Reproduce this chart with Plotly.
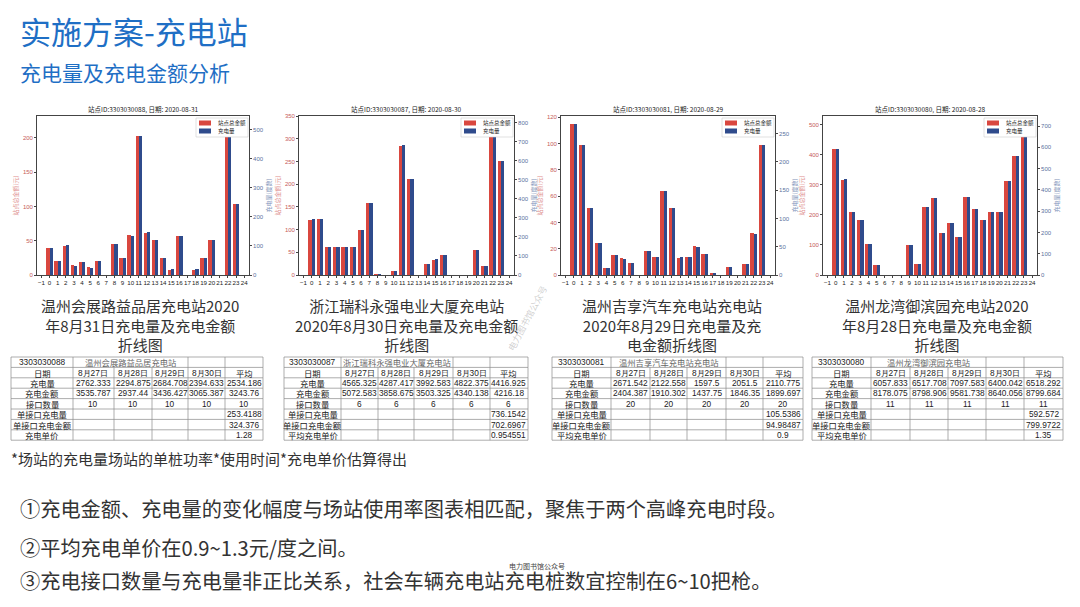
import plotly.graph_objects as go

W, H = 1080, 607
FONT = "Noto Sans CJK SC"
NUM_FONT = "Liberation Sans"
RED = "#d9473f"
BLUE = "#2f4b8c"
TITLE_BLUE = "#1f6fc5"
TEXT = "#333333"

# ---- hourly bars ----
hours = list(range(24))

amount_0831 = [39, 20, 43, 14, 19, 11, 20, 0, 45, 25, 58, 203, 62, 51, 25, 8, 57, 0, 8, 25, 51, 0, 220, 103]
energy_0831 = [93, 48, 102, 32, 45, 25, 47, 0, 107, 58, 136, 479, 147, 122, 60, 20, 135, 0, 20, 58, 120, 0, 519, 244]

amount_0830 = [122, 123, 62, 62, 62, 62, 100, 158, 2, 0, 9, 285, 211, 0, 25, 34, 44, 0, 0, 0, 54, 20, 312, 252]
energy_0830 = [292, 294, 147, 147, 147, 147, 238, 376, 3, 0, 20, 681, 504, 0, 60, 82, 105, 0, 0, 0, 130, 47, 740, 600]

amount_0829 = [115, 99, 51, 24, 5.6, 15, 12.7, 9, 0, 18, 13.4, 64, 51, 13.2, 13.7, 21.8, 16, 1.8, 0, 6, 0, 8.6, 31.6, 99]
energy_0829 = [267, 230, 119, 56, 13, 35, 29, 21, 0, 42, 31, 149, 119, 31, 32, 50, 37, 4, 0, 14, 0, 20, 73, 230]

amount_0828 = [417, 317, 209, 181, 104, 33, 0, 0, 0, 100, 38, 226, 256, 138, 174, 125, 259, 220, 181, 209, 209, 312, 395, 485]
energy_0828 = [590, 449, 296, 257, 147, 47, 0, 0, 0, 142, 53, 319, 362, 196, 246, 177, 366, 311, 257, 296, 296, 441, 559, 690]

amounts = [amount_0831, amount_0830, amount_0829, amount_0828]
energies = [energy_0831, energy_0830, energy_0829, energy_0828]

station_ids = ["3303030088", "3303030087", "3303030081", "3303030080"]
chart_dates = ["2020-08-31", "2020-08-30", "2020-08-29", "2020-08-28"]
station_names = ["温州会展路益品居充电站", "浙江瑞科永强电业大厦充电站",
                 "温州吉享汽车充电站充电站", "温州龙湾御滨园充电站"]
captions = [
    "温州会展路益品居充电站2020<br>年8月31日充电量及充电金额<br>折线图",
    "浙江瑞科永强电业大厦充电站<br>2020年8月30日充电量及充电金额<br>折线图",
    "温州吉享汽车充电站充电站<br>2020年8月29日充电量及充<br>电金额折线图",
    "温州龙湾御滨园充电站2020<br>年8月28日充电量及充电金额<br>折线图",
]
legend_labels = ["站点总金额", "充电量"]

# ---- summary tables ----
table_dates = ["8月27日", "8月28日", "8月29日", "8月30日", "平均"]
t_energy = [
    [2762.333, 2294.875, 2684.708, 2394.633, 2534.186],
    [4565.325, 4287.417, 3992.583, 4822.375, 4416.925],
    [2671.542, 2122.558, 1597.5, 2051.5, 2110.775],
    [6057.833, 6517.708, 7097.583, 6400.042, 6518.292],
]
t_amount = [
    [3535.787, 2937.44, 3436.427, 3065.387, 3243.76],
    [5072.583, 3858.675, 3503.325, 4340.138, 4216.18],
    [2404.387, 1910.302, 1437.75, 1846.35, 1899.697],
    [8178.075, 8798.906, 9581.738, 8640.056, 8799.684],
]
t_ports = [10, 6, 20, 11]
t_energy_per_port = [253.4188, 736.1542, 105.5386, 592.572]
t_amount_per_port = [324.376, 702.6967, 94.98487, 799.9722]
t_unit_price = [1.28, 0.954551, 0.9, 1.35]
price_labels = ["充电单价", "平均充电单价", "平均充电单价", "平均充电单价"]

# layout of the four panels (pixels)
chart_x = [(37, 249), (299, 514), (561, 775), (823, 1037)]
plot_top, plot_bottom = 116, 275
left_max = [232, 350, 121, 528]
left_dtick = [50, 50, 20, 100]
right_max = [548, 835, 281, 747]
right_dtick = [100, 100, 50, 100]
caption_cx = [140, 406, 672, 937]
table_left = [11, 284, 552, 812]
table_cols = [
    [62, 41, 38, 36, 37, 38],
    [57, 37, 36, 39, 37, 38],
    [59, 39, 37, 39, 37, 40],
    [59, 39, 38, 38, 38, 39],
]
table_top, row_h = 357, 10.4


def px(x):
    return x / W


def py(y):
    return 1 - y / H


def label(x, y, text, size, color, xanchor="center", yanchor="middle", family=None, **kw):
    font = dict(size=size, color=color)
    if family:
        font["family"] = family
    return dict(x=px(x), y=py(y), xref="paper", yref="paper", text=text,
                showarrow=False, xanchor=xanchor, yanchor=yanchor, font=font, **kw)


fig = go.Figure()
annotations = []
shapes = []
layout_axes = {}

for k in range(4):
    xs = "" if k == 0 else str(k + 1)
    yl = "" if k == 0 else str(2 * k + 1)
    yr = str(2 * k + 2)

    fig.add_trace(go.Bar(
        x=hours, y=amounts[k], width=0.4, offset=-0.4, marker_color=RED,
        marker_line_width=0, name=legend_labels[0], xaxis="x" + xs, yaxis="y" + yl,
        showlegend=False, hoverinfo="x+y"))
    fig.add_trace(go.Bar(
        x=hours, y=energies[k], width=0.4, offset=0, marker_color=BLUE,
        marker_line_width=0, name=legend_labels[1], xaxis="x" + xs, yaxis="y" + yr,
        showlegend=False, hoverinfo="x+y"))

    x0, x1 = chart_x[k]
    dom_x = [px(x0), px(x1)]
    dom_y = [py(plot_bottom), py(plot_top)]
    layout_axes["xaxis" + xs] = dict(
        domain=dom_x, anchor="y" + yl, range=[-1.55, 24.6], automargin=False,
        tickvals=list(range(-1, 25)), tickangle=0,
        tickfont=dict(size=6.2, color="#222", family=NUM_FONT),
        showline=True, mirror=True, linecolor="#444", linewidth=0.8,
        ticks="outside", ticklen=2, tickcolor="#444", showgrid=False, zeroline=False)
    layout_axes["yaxis" + yl] = dict(
        domain=dom_y, anchor="x" + xs, range=[0, left_max[k]], dtick=left_dtick[k],
        automargin=False, tickfont=dict(size=6, color="#c65a5a", family=NUM_FONT),
        showline=True, linecolor="#444",
        linewidth=0.8, ticks="outside", ticklen=2, tickcolor="#444",
        showgrid=False, zeroline=False,
        title=dict(text="站点总金额(元)", font=dict(size=6, color="#e09090"), standoff=3))
    layout_axes["yaxis" + yr] = dict(
        overlaying="y" + yl, side="right", anchor="x" + xs, automargin=False,
        range=[0, right_max[k]], dtick=right_dtick[k],
        tickfont=dict(size=6, color="#5a6f9e", family=NUM_FONT),
        showline=True, linecolor="#444",
        linewidth=0.8, ticks="outside", ticklen=2, tickcolor="#444",
        showgrid=False, zeroline=False,
        title=dict(text="充电量(度数)", font=dict(size=6, color="#8596bb"), standoff=3))

    annotations.append(label((x0 + x1) / 2, 109, f"站点ID:{station_ids[k]}, 日期: {chart_dates[k]}",
                             6.5, "#222"))
    annotations.append(label(caption_cx[k], 325, captions[k], 15, TEXT, align="center"))

    # small matplotlib-style legend box in the top-right corner
    lx1, lx0 = x1 - 1, x1 - 53
    shapes.append(dict(type="rect", xref="paper", yref="paper",
                       x0=px(lx0), x1=px(lx1), y0=py(plot_top + 21), y1=py(plot_top + 2),
                       fillcolor="white", line=dict(color="#cccccc", width=0.6), layer="above"))
    for i, colr in enumerate([RED, BLUE]):
        yc = plot_top + 7 + i * 8
        shapes.append(dict(type="rect", xref="paper", yref="paper",
                           x0=px(lx0 + 3), x1=px(lx0 + 15), y0=py(yc + 2.5), y1=py(yc - 2.5),
                           fillcolor=colr, line=dict(width=0), layer="above"))
        annotations.append(label(lx0 + 20, yc, legend_labels[i], 5.5, "#222", xanchor="left"))

    # summary table
    rows = [
        [station_ids[k], station_names[k], "", "", "", ""],
        ["日期"] + table_dates,
        ["充电量"] + [str(v) for v in t_energy[k]],
        ["充电金额"] + [str(v) for v in t_amount[k]],
        ["接口数量"] + [str(t_ports[k])] * 5,
        ["单接口充电量", "", "", "", "", str(t_energy_per_port[k])],
        ["单接口充电金额", "", "", "", "", str(t_amount_per_port[k])],
        [price_labels[k], "", "", "", "", str(t_unit_price[k])],
    ]
    bounds = [table_left[k]]
    for w in table_cols[k]:
        bounds.append(bounds[-1] + w)
    n_rows = len(rows)
    for r in range(n_rows + 1):
        yy = table_top + r * row_h
        shapes.append(dict(type="line", xref="paper", yref="paper",
                           x0=px(bounds[0]), x1=px(bounds[-1]), y0=py(yy), y1=py(yy),
                           line=dict(color="#8a8a8a", width=0.7)))
    for r in range(n_rows):
        ya, yb = table_top + r * row_h, table_top + (r + 1) * row_h
        for c, bx in enumerate(bounds):
            if r == 0 and c in (2, 3):
                continue
            shapes.append(dict(type="line", xref="paper", yref="paper",
                               x0=px(bx), x1=px(bx), y0=py(ya), y1=py(yb),
                               line=dict(color="#8a8a8a", width=0.7)))
        for c, cell in enumerate(rows[r]):
            if not cell:
                continue
            if r == 0 and c == 1:
                cx = (bounds[1] + bounds[4]) / 2
                col = "#666"
            else:
                cx = (bounds[c] + bounds[c + 1]) / 2
                col = "#222"
            numeric = cell[0].isdigit()
            annotations.append(label(cx, (ya + yb) / 2, cell, 8.3 if numeric else 8.3, col,
                                     family=NUM_FONT if numeric else None))

# header, footnote and conclusions
annotations += [
    label(18, 30, "实施方案-充电站", 31, TITLE_BLUE, xanchor="left"),
    label(18, 72, "充电量及充电金额分析", 21, TITLE_BLUE, xanchor="left"),
    label(9, 458, "*场站的充电量场站的单桩功率*使用时间*充电单价估算得出", 15, TEXT, xanchor="left"),
    label(18, 508, "①充电金额、充电量的变化幅度与场站使用率图表相匹配，聚焦于两个高峰充电时段。",
          20.2, TEXT, xanchor="left"),
    label(18, 547, "②平均充电单价在0.9~1.3元/度之间。", 20.2, TEXT, xanchor="left"),
    label(18, 580, "③充电接口数量与充电量非正比关系，社会车辆充电站充电桩数宜控制在6~10把枪。",
          20.2, TEXT, xanchor="left"),
    label(527, 318, "电力图书馆公众号", 9, "rgba(150,150,150,0.45)", textangle=-62),
    label(537, 566, "电力图书馆公众号", 7, "#444"),
]

fig.update_layout(
    width=W, height=H, margin=dict(l=0, r=0, t=0, b=0, autoexpand=False),
    paper_bgcolor="white", plot_bgcolor="white",
    font=dict(family=FONT, color=TEXT), showlegend=False,
    barmode="overlay", bargap=0,
    annotations=annotations, shapes=shapes,
    **layout_axes,
)

fig.write_html("out.html", config={"displayModeBar": False},
               post_script="document.body.style.margin='0px';")
